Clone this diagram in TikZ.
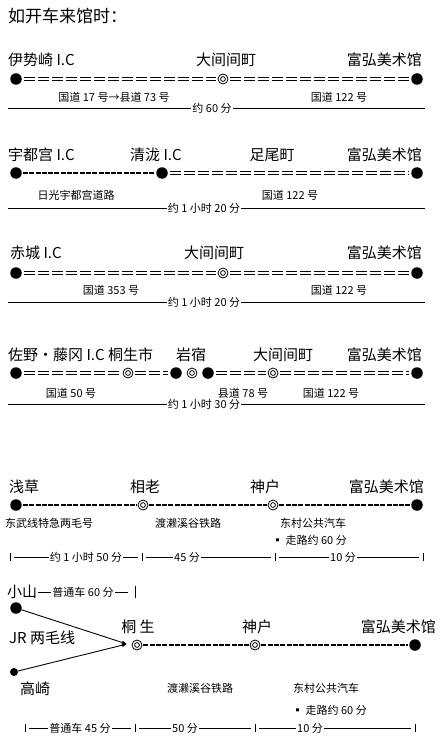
\documentclass[tikz,border=0pt]{standalone}
\usepackage{fontspec}
\setmainfont{Noto Sans CJK SC}
\usetikzlibrary{arrows.meta}
\tikzset{
  big/.style={inner sep=0pt, font=\fontsize{15}{17}\selectfont},
  small/.style={inner sep=0pt, font=\fontsize{11}{13}\selectfont},
  title/.style={inner sep=0pt, font=\fontsize{17}{19}\selectfont},
  bdot/.style={circle, fill=black, minimum size=11.5pt, inner sep=0pt},
  sdot/.style={circle, fill=black, minimum size=8pt, inner sep=0pt},
  dcirc/.style={circle, draw=black, line width=0.8pt, minimum size=10pt, inner sep=0pt,
    path picture={\draw[line width=0.8pt] (path picture bounding box.center) circle (2.4pt);}},
  dseg/.style={draw=black, line width=0.75pt, dash pattern=on 11pt off 3pt},
  rail/.style={draw=black, line width=1.7pt, dash pattern=on 5pt off 1.3pt, shorten <=1pt, shorten >=1pt},
  tline/.style={draw=black, line width=0.6pt},
  tlab/.style={small, fill=white, inner xsep=1pt, inner ysep=1pt},
  tick/.style={draw=black, line width=0.8pt},
}
\newcommand\dblconn[2]{%
  \draw[dseg] ([xshift=2pt,yshift=1.5pt]#1.east) -- ([xshift=-2pt,yshift=1.5pt]#2.west);%
  \draw[dseg] ([xshift=2pt,yshift=-1.5pt]#1.east) -- ([xshift=-2pt,yshift=-1.5pt]#2.west);}
\begin{document}
\begin{tikzpicture}[x=1pt,y=-1pt]
\useasboundingbox[fill=white] (0,0) rectangle (445,746);
\node[title, anchor=west] (ttl) at (8,16) {如开车来馆时：};

% ---------- Section 1
\node[big, anchor=west] (l1a) at (8,60) {伊势崎 I.C};
\node[big] (l1b) at (226,60) {大间间町};
\node[big, anchor=east] (l1c) at (422,60) {富弘美术馆};
\node[bdot] (a1) at (16,79) {};
\node[dcirc] (b1) at (223,79) {};
\node[bdot] (c1) at (417,79) {};
\dblconn{a1}{b1}
\dblconn{b1}{c1}
\node[small] (s1a) at (114,97) {国道 17 号→县道 73 号};
\node[small] (s1b) at (339,97) {国道 122 号};
\coordinate (t1l) at (8,108); \coordinate (t1r) at (425,108);
\draw[tline] (t1l) -- (t1r);
\node[tlab] (t1) at (212,108) {约 60 分};

% ---------- Section 2
\node[big, anchor=west] (l2a) at (8,155) {宇都宫 I.C};
\node[big, anchor=west] (l2b) at (130,155) {清泷 I.C};
\node[big] (l2c) at (272,155) {足尾町};
\node[big, anchor=east] (l2d) at (422,155) {富弘美术馆};
\node[bdot] (a2) at (16,173) {};
\node[bdot] (b2) at (162,173) {};
\node[bdot] (c2) at (417,173) {};
\draw[rail] (a2) -- (b2);
\dblconn{b2}{c2}
\node[small] (s2a) at (76,195) {日光宇都宫道路};
\node[small] (s2b) at (290,195) {国道 122 号};
\coordinate (t2l) at (8,208); \coordinate (t2r) at (425,208);
\draw[tline] (t2l) -- (t2r);
\node[tlab] (t2) at (204,208) {约 1 小时 20 分};

% ---------- Section 3
\node[big, anchor=west] (l3a) at (10,253) {赤城 I.C};
\node[big] (l3b) at (214,253) {大间间町};
\node[big, anchor=east] (l3c) at (422,253) {富弘美术馆};
\node[bdot] (a3) at (16,273) {};
\node[dcirc] (b3) at (223,273) {};
\node[bdot] (c3) at (417,273) {};
\dblconn{a3}{b3}
\dblconn{b3}{c3}
\node[small] (s3a) at (111,290) {国道 353 号};
\node[small] (s3b) at (339,290) {国道 122 号};
\coordinate (t3l) at (8,302); \coordinate (t3r) at (425,302);
\draw[tline] (t3l) -- (t3r);
\node[tlab] (t3) at (204,302) {约 1 小时 20 分};

% ---------- Section 4
\node[big, anchor=west] (l4a) at (8,355) {佐野・藤冈 I.C 桐生市};
\node[big] (l4b) at (191,355) {岩宿};
\node[big] (l4c) at (283,355) {大间间町};
\node[big, anchor=east] (l4d) at (422,355) {富弘美术馆};
\node[bdot] (a4) at (16,373) {};
\node[dcirc] (b4) at (128,373) {};
\node[bdot] (c4) at (176,373) {};
\node[dcirc] (d4) at (192,373) {};
\node[bdot] (e4) at (208,373) {};
\node[dcirc] (f4) at (273,373) {};
\node[bdot] (g4) at (417,373) {};
\dblconn{a4}{b4}
\dblconn{b4}{c4}
\dblconn{e4}{f4}
\dblconn{f4}{g4}
\node[small] (s4a) at (71,393) {国道 50 号};
\node[small] (s4b) at (243,393) {县道 78 号};
\node[small] (s4c) at (331,393) {国道 122 号};
\coordinate (t4l) at (8,404); \coordinate (t4r) at (425,404);
\draw[tline] (t4l) -- (t4r);
\node[tlab] (t4) at (204,404) {约 1 小时 30 分};

% ---------- Section 5
\node[big, anchor=west] (l5a) at (9,487) {浅草};
\node[big] (l5b) at (145,487) {相老};
\node[big] (l5c) at (265,487) {神户};
\node[big, anchor=east] (l5d) at (424,487) {富弘美术馆};
\node[bdot] (a5) at (16,505) {};
\node[dcirc] (b5) at (143,505) {};
\node[dcirc] (c5) at (273,505) {};
\node[bdot] (d5) at (417,505) {};
\draw[rail] (a5) -- (b5);
\draw[rail] (b5) -- (c5);
\draw[rail] (c5) -- (d5);
\node[small, anchor=west] (s5a) at (5,523) {东武线特急两毛号};
\node[small] (s5b) at (188,523) {渡濑溪谷铁路};
\node[small, anchor=west] (s5c) at (280,523) {东村公共汽车};
\node[small, anchor=west] (s5d) at (272,540) {▪ 走路约 60 分};
\coordinate (k5a) at (10,557); \coordinate (k5b) at (142,557);
\coordinate (k5c) at (275,557); \coordinate (k5d) at (423,557);
\foreach \k in {k5a,k5b,k5c,k5d} \draw[tick] ([yshift=-4pt]\k) -- ([yshift=4pt]\k);
\draw[tline] ([xshift=4pt]k5a) -- ([xshift=-4pt]k5b);
\draw[tline] ([xshift=4pt]k5b) -- ([xshift=-4pt]k5c);
\draw[tline] ([xshift=4pt]k5c) -- ([xshift=-4pt]k5d);
\node[tlab] (t5a) at (86,557) {约 1 小时 50 分};
\node[tlab] (t5b) at (187,557) {45 分};
\node[tlab] (t5c) at (343,557) {10 分};

% ---------- Section 6
\node[big, anchor=west] (l6a) at (7,592) {小山};
\coordinate (p6a) at (38,592); \coordinate (p6b) at (128,592);
\draw[tline] (p6a) -- (p6b);
\node[tlab] (t6o) at (83,592) {普通车 60 分};
\coordinate (k6o) at (135,592);
\draw[tick] ([yshift=-6pt]k6o) -- ([yshift=6pt]k6o);
\node[bdot] (oy) at (16,608) {};
\node[sdot] (tk) at (14,672) {};
\node[big, anchor=west] (jr) at (9,638) {JR 两毛线};
\node[big, anchor=west] (l6b) at (20,689) {高崎};
\coordinate (kj) at (127,644);
\draw[line width=0.9pt, -{Latex[length=5pt,width=4pt]}] (oy) -- (kj);
\draw[line width=0.9pt, -{Latex[length=5pt,width=4pt]}] (tk) -- (kj);
\node[big] (l6c) at (138,627) {桐 生};
\node[big] (l6d) at (257,627) {神户};
\node[big, anchor=east] (l6e) at (436,627) {富弘美术馆};
\node[dcirc] (a6) at (137,645) {};
\node[dcirc] (b6) at (255,645) {};
\node[bdot] (c6) at (415,645) {};
\draw[rail] (a6) -- (b6);
\draw[rail] (b6) -- (c6);
\node[small] (s6a) at (200,688) {渡濑溪谷铁路};
\node[small] (s6b) at (326,688) {东村公共汽车};
\node[small, anchor=west] (s6c) at (292,710) {▪ 走路约 60 分};
\coordinate (k6a) at (25,728); \coordinate (k6b) at (135,728);
\coordinate (k6c) at (255,728); \coordinate (k6d) at (415,728);
\foreach \k in {k6a,k6b,k6c,k6d} \draw[tick] ([yshift=-4pt]\k) -- ([yshift=4pt]\k);
\draw[tline] ([xshift=4pt]k6a) -- ([xshift=-4pt]k6b);
\draw[tline] ([xshift=4pt]k6b) -- ([xshift=-4pt]k6c);
\draw[tline] ([xshift=4pt]k6c) -- ([xshift=-4pt]k6d);
\node[tlab] (t6a) at (80,728) {普通车 45 分};
\node[tlab] (t6b) at (185,728) {50 分};
\node[tlab] (t6c) at (310,728) {10 分};
\end{tikzpicture}
\end{document}
